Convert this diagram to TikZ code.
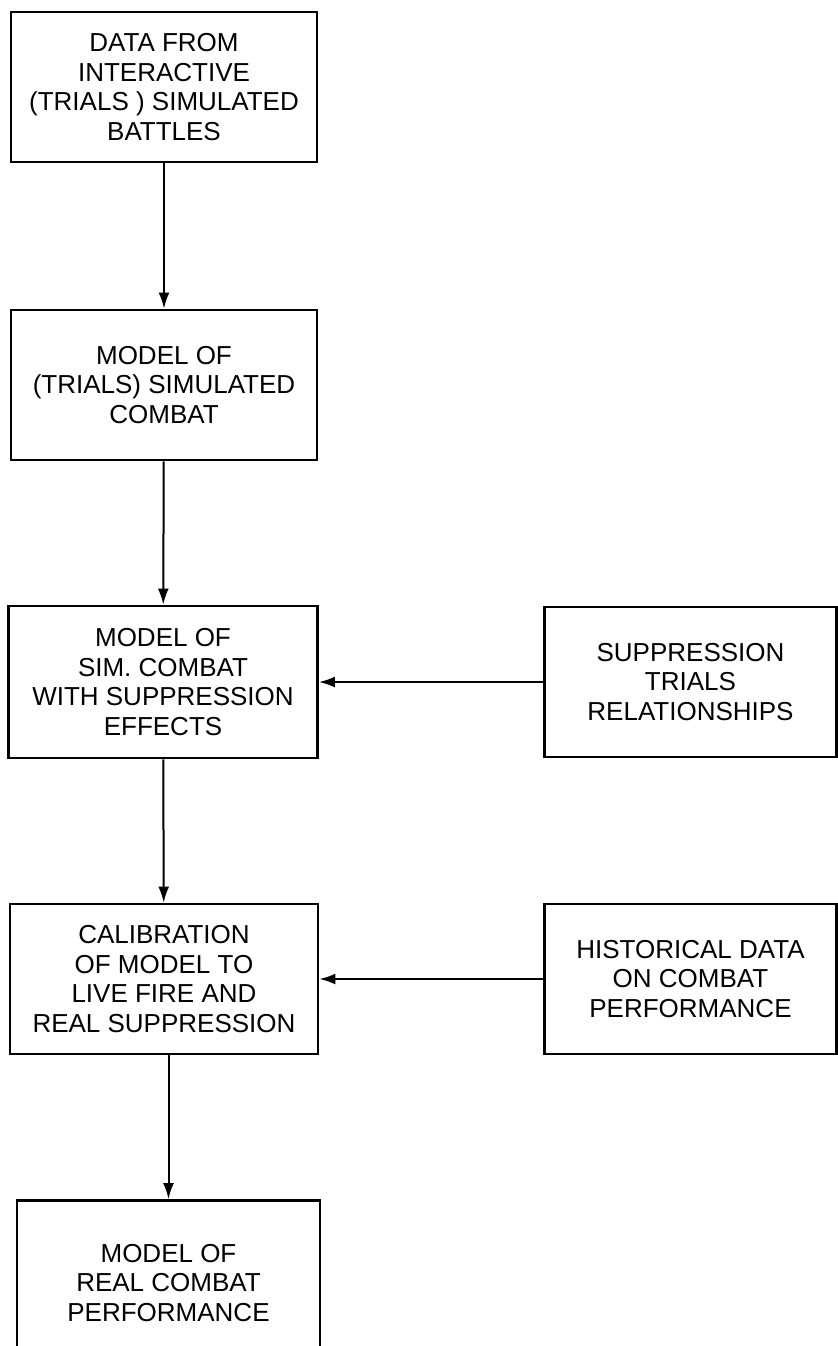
\documentclass[tikz,border=0pt]{standalone}
\usepackage{fontspec}
\setmainfont{Liberation Sans}
\usetikzlibrary{arrows.meta,positioning}

\begin{document}
\begin{tikzpicture}[
  x=0.5pt, y=-0.5pt,
  every node/.style={font=\fontsize{13}{14.8}\selectfont},
  >={Latex[length=8pt,width=5.4pt]},
  box/.style={draw, line width=1.3pt, align=center, inner sep=0pt,
    minimum width=153pt, minimum height=75pt},
  sidebox/.style={box, minimum width=146pt},
  flow/.style={->, line width=1pt}
]
\useasboundingbox[fill=white] (0,0) rectangle (838,1346);

% main column
\node[box] (data) at (164,87) {DATA FROM\\INTERACTIVE\\(TRIALS ) SIMULATED\\BATTLES};
\node[box] (trialmodel) at (164,385) {MODEL OF\\(TRIALS) SIMULATED\\COMBAT};
\node[box, minimum width=154.5pt, minimum height=76pt] (supmodel) at (163,682)
  {MODEL OF\\SIM. COMBAT\\WITH SUPPRESSION\\EFFECTS};
\node[box, minimum width=154pt] (calib) at (164,979)
  {CALIBRATION\\OF MODEL TO\\LIVE FIRE AND\\REAL SUPPRESSION};
\node[box, minimum width=151.5pt, minimum height=82.5pt] (realmodel) at (168.5,1283)
  {MODEL OF\\REAL COMBAT\\PERFORMANCE};

% inputs on the right
\node[sidebox] (suptrials) at (690.5,682) {SUPPRESSION\\TRIALS\\RELATIONSHIPS};
\node[sidebox] (hist) at (690.5,979) {HISTORICAL DATA\\ON COMBAT\\PERFORMANCE};

% connectors
\draw[flow] (data) -- (trialmodel);
\draw[flow] (trialmodel) -- (supmodel);
\draw[flow] (supmodel) -- (calib);
\draw[flow] (calib.south -| realmodel) -- (realmodel);
\draw[flow] (suptrials) -- (supmodel);
\draw[flow] (hist) -- (calib);

\end{tikzpicture}
\end{document}
